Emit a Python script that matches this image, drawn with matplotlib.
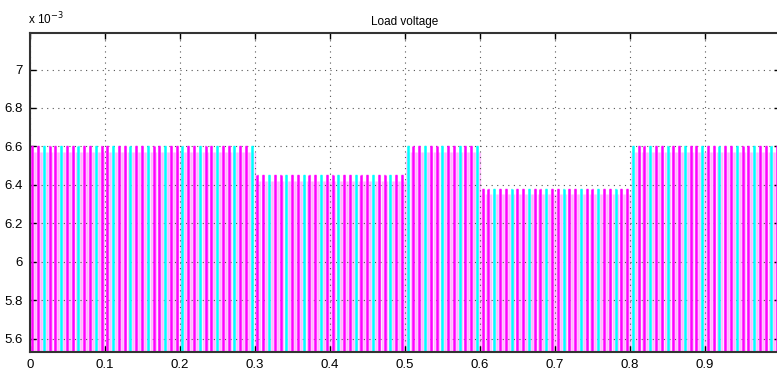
import numpy as np
import matplotlib.pyplot as plt
from matplotlib.ticker import FuncFormatter

plt.rcParams['font.family'] = ['Liberation Sans', 'DejaVu Sans']

# step levels of the load voltage (V) between switching instants (s)
seg_edges = [0.0, 0.3, 0.5, 0.6, 0.8, 1.0]
seg_levels = [6.6e-3, 6.45e-3, 6.6e-3, 6.38e-3, 6.6e-3]
pulse_low = 5.0e-3
pulse_step = 0.0077
colour_pattern = ['#ff00ff', '#ff00ff', '#00ffff']

x_ticks = [0, 0.1, 0.2, 0.3, 0.4, 0.5, 0.6, 0.7, 0.8, 0.9]
y_ticks = [5.6e-3, 5.8e-3, 6.0e-3, 6.2e-3, 6.4e-3, 6.6e-3, 6.8e-3, 7.0e-3]


def level_at(t):
    idx = np.searchsorted(seg_edges, t, side='right') - 1
    idx = np.clip(idx, 0, len(seg_levels) - 1)
    return np.array(seg_levels)[idx]


fig = plt.figure(figsize=(7.77, 3.71), dpi=100)
ax = fig.add_axes([30 / 777, 19 / 371, 750 / 777, 319 / 371])

t_pulse = np.arange(0.003, 1.0, pulse_step)

# faint wash between pulses
for frac, a in [(0.3, 0.3), (0.5, 0.4), (0.7, 0.3)]:
    tw = t_pulse + frac * pulse_step
    ax.vlines(tw, pulse_low, level_at(tw) - 0.03e-3, color='#ff66ff', lw=1.0, alpha=a, zorder=1)

for i, c in enumerate(colour_pattern):
    tt = t_pulse[i::len(colour_pattern)]
    ax.vlines(tt, pulse_low, level_at(tt), color=c, lw=1.8, zorder=2)
    ax.hlines(level_at(tt), tt - 0.0012, tt + 0.0012, color=c, lw=1.0, zorder=2)

ax.vlines([0.0005], pulse_low, 5.7e-3, color='#008888', lw=1.2, zorder=2)

ax.set_xlim(0, 1.0)
ax.set_ylim(5.53e-3, 7.19e-3)
ax.set_xticks(x_ticks)
ax.set_yticks(y_ticks)
ax.xaxis.set_major_formatter(FuncFormatter(lambda v, p: '0' if v == 0 else f'{v:g}'))
ax.yaxis.set_major_formatter(FuncFormatter(lambda v, p: f'{v * 1e3:g}'))
ax.tick_params(direction='in', length=4, top=True, right=True, labelsize=9.5, pad=5, width=1)
ax.grid(True, linestyle=(0, (1, 4)), color='#555555', lw=0.8, zorder=0)
for s in ax.spines.values():
    s.set_linewidth(1.5)
    s.set_color('#333333')

ax.set_title('Load voltage', fontsize=8.5, pad=6)
fig.text(28 / 777, 1 - 19 / 371, r'x 10$^{-3}$', fontsize=8.5, ha='left', va='center')

plt.savefig('out.png', dpi=100)
